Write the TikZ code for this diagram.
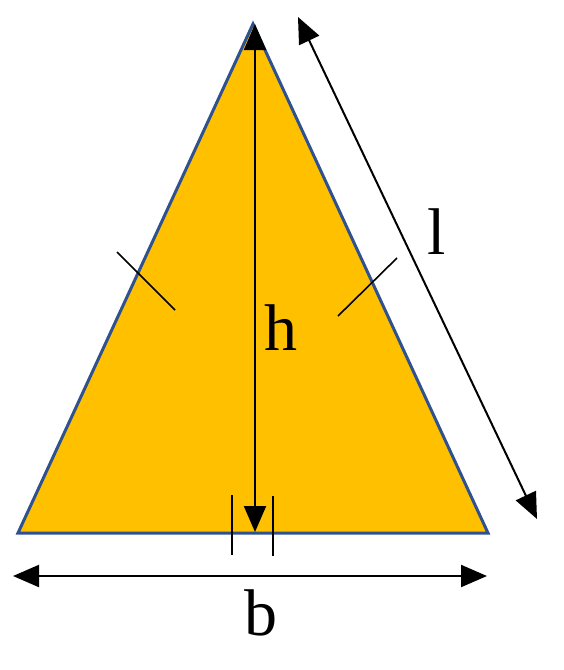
\documentclass[tikz,border=0pt]{standalone}
\usepackage{fontspec}
\setmainfont{Liberation Serif}
\usetikzlibrary{arrows.meta}
\definecolor{gold}{HTML}{FFC000}
\definecolor{edgeblue}{HTML}{2F528F}
\begin{document}
\begin{tikzpicture}[x=1pt,y=-1pt,
  dim/.style={line width=2pt,{Triangle[length=26pt,width=22pt]}-{Triangle[length=26pt,width=22pt]}},
  tick/.style={line width=1.6pt},
  lbl/.style={font=\fontsize{66}{70}\selectfont,inner sep=0pt}]
\useasboundingbox (0,0) rectangle (563,670);
\coordinate (A) at (253,24);
\coordinate (L) at (18,533);
\coordinate (R) at (488,533);
\coordinate (F) at (255,532);
\filldraw[fill=gold,draw=edgeblue,line width=3pt,line join=miter] (L) -- (A) -- (R) -- cycle;
% height
\coordinate (Htop) at (255,24);
\draw[dim] (Htop) -- (F);
% right-angle ticks
\coordinate (t1a) at (232,495); \coordinate (t1b) at (232,555);
\coordinate (t2a) at (273,496); \coordinate (t2b) at (273,556);
\draw[tick] (t1a) -- (t1b);
\draw[tick] (t2a) -- (t2b);
% side equality ticks
\coordinate (s1a) at (117,252); \coordinate (s1b) at (175,310);
\coordinate (s2a) at (397,258); \coordinate (s2b) at (338,316);
\draw[tick] (s1a) -- (s1b);
\draw[tick] (s2a) -- (s2b);
% slant length
\coordinate (la) at (298,17); \coordinate (lb) at (537,519);
\draw[dim] (la) -- (lb);
% base
\coordinate (ba) at (13,576); \coordinate (bb) at (487,576);
\draw[dim] (ba) -- (bb);
\node[lbl] (ll) at (437,232) {l};
\node[lbl] (hl) at (281,328) {h};
\node[lbl] (bl) at (261,613) {b};
\end{tikzpicture}
\end{document}
